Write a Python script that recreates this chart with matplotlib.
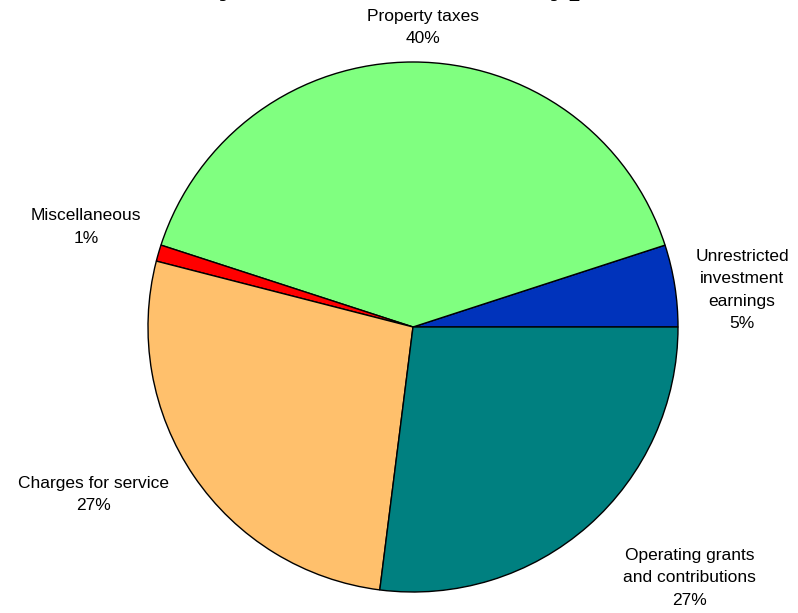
import matplotlib.pyplot as plt
import numpy as np

# Revenue sources, counter-clockwise from 3 o'clock
sources = ['Unrestricted\ninvestment\nearnings', 'Property taxes', 'Miscellaneous',
           'Charges for service', 'Operating grants\nand contributions']
shares = [5, 40, 1, 27, 27]
colors = ['#0033BB', '#80FF80', '#FF0000', '#FFC06C', '#008080']

# label placement (angle in degrees, distance in radii)
label_angle = [6.4, 88, 163, 207.7, 317.8]
label_dist = [1.25, 1.13, 1.29, 1.36, 1.41]

fig = plt.figure(figsize=(7.98, 6.13), dpi=100)
ax = fig.add_axes([0, 0, 1, 1])

ax.pie(shares, colors=colors, startangle=0, counterclock=True, radius=1.0,
       wedgeprops=dict(edgecolor='black', linewidth=1.0))

for name, val, a, d in zip(sources, shares, label_angle, label_dist):
    t = np.deg2rad(a)
    ax.text(d * np.cos(t), d * np.sin(t), f'{name}\n{val}%', ha='center', va='center',
            fontsize=12.5, family='Liberation Sans', linespacing=1.6)

ax.set_xlim(-413 / 265, 385 / 265)
ax.set_ylim(-286 / 265, 327 / 265)
ax.set_aspect('equal')
ax.axis('off')

# title sits above the top edge, only descenders show
fig.text(0.501, 1.012, 'Revenues by Source - Business-type Activities', ha='center',
         va='baseline', fontsize=27, fontweight='bold', family='Liberation Serif')

fig.savefig('out.png', dpi=100)
